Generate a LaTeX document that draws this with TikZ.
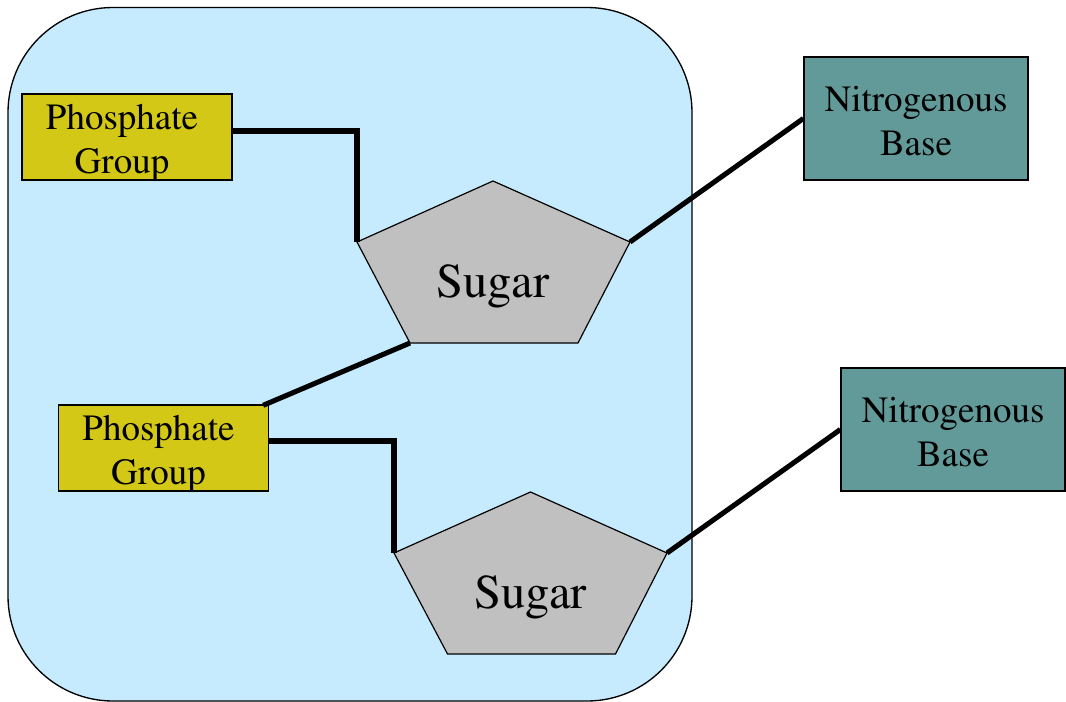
\documentclass[tikz,border=0pt]{standalone}
\usepackage[T1]{fontenc}
\usepackage{times}
\usetikzlibrary{calc}
\definecolor{bgblue}{HTML}{C6EBFE}
\definecolor{phosyellow}{HTML}{D4C816}
\definecolor{nitroteal}{HTML}{629A99}
\definecolor{sugargray}{HTML}{C0C0C0}
\tikzset{
  phosbox/.style={draw=black, line width=1pt, fill=phosyellow, minimum width=157.5pt, minimum height=64.5pt, inner sep=0pt},
  nitrobox/.style={draw=black, line width=1pt, fill=nitroteal, minimum width=168pt, minimum height=92.25pt, inner sep=0pt},
  boxtext/.style={inner sep=0pt, align=center, font=\rmfamily\fontsize{27.75}{33}\selectfont},
  sugarshape/.style={draw=black, line width=0.9pt, fill=sugargray, line join=miter},
  sugartext/.style={inner sep=0pt, anchor=base, font=\rmfamily\fontsize{36.4}{40}\selectfont},
  bond/.style={draw=black, line width=3.8pt, line join=miter},
}
\begin{document}
\begin{tikzpicture}[x=0.75pt,y=-0.75pt]
\useasboundingbox (0,0) rectangle (1066,702);
\draw[fill=bgblue, line width=1pt, rounded corners=78.75pt] (8,7.5) rectangle (692,701);

% sugar 1
\coordinate (s1t) at (493,181);
\coordinate (s1ul) at (357,242);
\coordinate (s1ur) at (630,242);
\coordinate (s1ll) at (410,343);
\coordinate (s1lr) at (578,343);
\path[sugarshape] (s1t) -- (s1ur) -- (s1lr) -- (s1ll) -- (s1ul) -- cycle;
\node[sugartext] (s1) at (493,297) {Sugar};

% sugar 2
\coordinate (s2t) at (530.5,492);
\coordinate (s2ul) at (394,553);
\coordinate (s2ur) at (667,553);
\coordinate (s2ll) at (447.5,654);
\coordinate (s2lr) at (615.5,654);
\path[sugarshape] (s2t) -- (s2ur) -- (s2lr) -- (s2ll) -- (s2ul) -- cycle;
\node[sugartext] (s2) at (530.5,608) {Sugar};

% boxes
\node[phosbox] (p1) at (127,137) {};
\node[boxtext] (p1t) at ($(p1.center)+(-5,6)$) {Phosphate\\Group};
\node[phosbox] (p2) at (163.5,448) {};
\node[boxtext] (p2t) at ($(p2.center)+(-5,6)$) {Phosphate\\Group};
\node[nitrobox] (n1) at (916,118.5) {};
\node[boxtext] (n1t) at ($(n1.center)+(0,2.5)$) {Nitrogenous\\Base};
\node[nitrobox] (n2) at (953,429.5) {};
\node[boxtext] (n2t) at ($(n2.center)+(0,2.5)$) {Nitrogenous\\Base};

% bonds
\coordinate (b1) at ($(p1.east)+(0,-6)$);
\coordinate (b2) at ($(p2.east)+(0,-7)$);
\coordinate (b3) at ($(p2.north east)+(-6,1)$);
\draw[bond] (b1) -- (b1 -| s1ul) -- (s1ul);
\draw[bond] (s1ur) -- (n1.west);
\draw[bond] (s1ll) -- (b3);
\draw[bond] (b2) -- (b2 -| s2ul) -- (s2ul);
\draw[bond] (s2ur) -- (n2.west);
\end{tikzpicture}
\end{document}
